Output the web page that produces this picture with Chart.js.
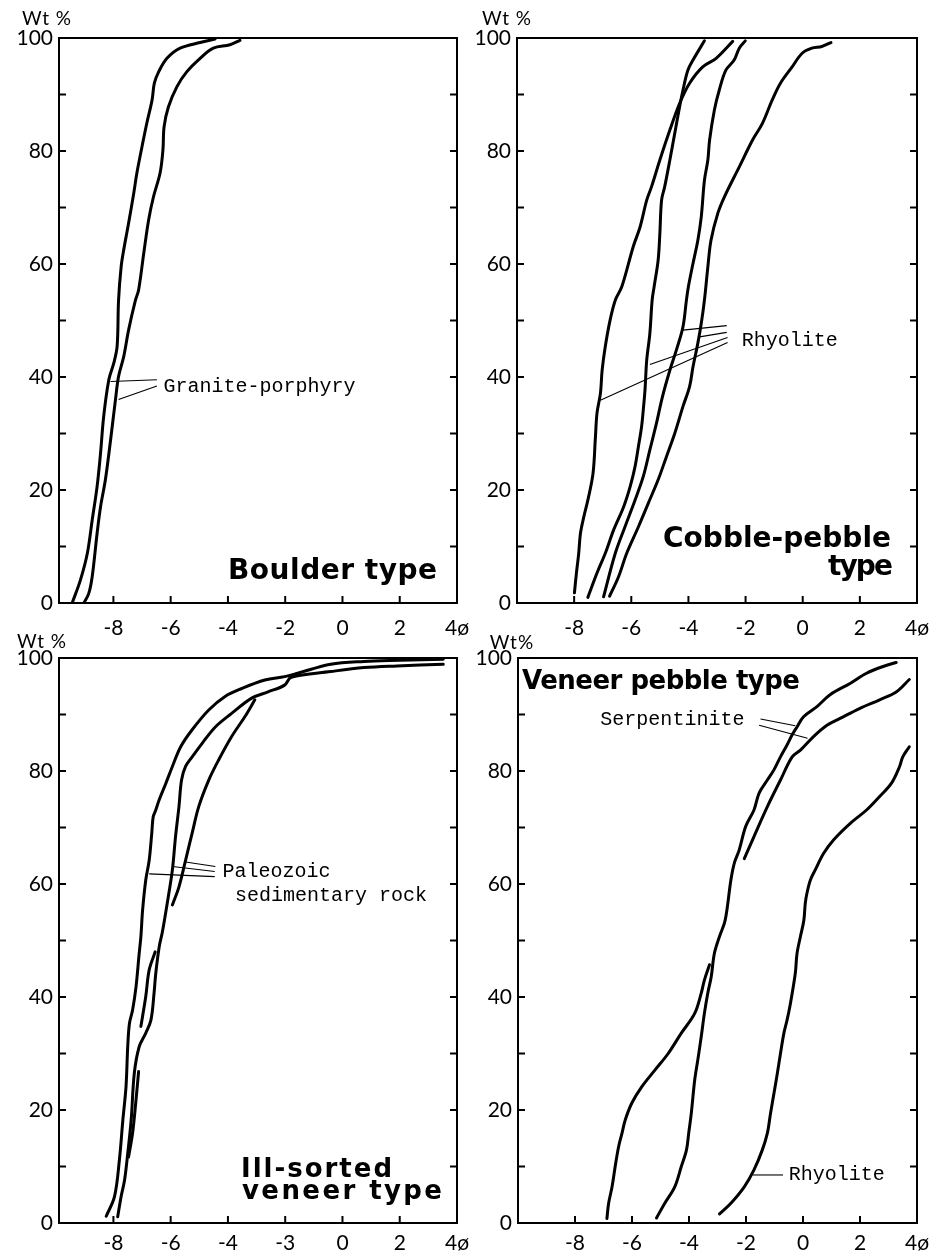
<!DOCTYPE html>
<html>
<head>
<meta charset="utf-8">
<script src="https://cdn.jsdelivr.net/npm/chart.js@4.4.1/dist/chart.umd.min.js"></script>
<style>
  body { margin: 0; background: #fff; }
  #page { position: relative; width: 950px; height: 1258px; overflow: hidden; }
  canvas { position: absolute; }
</style>
</head>
<body>
<div id="page">
  <canvas id="boulder" width="475" height="640" style="left:0;top:0"></canvas>
  <canvas id="cobble" width="480" height="640" style="left:470px;top:0"></canvas>
  <canvas id="illsorted" width="475" height="628" style="left:0;top:630px"></canvas>
  <canvas id="veneer" width="480" height="628" style="left:470px;top:630px"></canvas>
</div>
<script>
// axis ticks (phi scale and weight percent)
const xTickValues = [-8, -6, -4, -2, 0, 2, 4];
const xTickLabels = ['-8', '-6', '-4', '-2', '0', '2', '4ø'];
const xTickLabelsIll = ['-8', '-6', '-4', '-3', '0', '2', '4ø'];   // as printed in the original
const yTickValues = [0, 10, 20, 30, 40, 50, 60, 70, 80, 90, 100];
const yTickLabels = ['0', '', '20', '', '40', '', '60', '', '80', '', '100'];

// Boulder type -- [phi, cumulative wt %]
const boulderA = [[-9.44,0],[-9.15,4.1],[-8.91,8.8],[-8.74,14.7],[-8.57,20.6],[-8.45,26.5],[-8.34,33],[-8.16,39.5],[-7.99,42.4],[-7.87,45.4],[-7.82,53.6],[-7.73,59.5],[-7.64,62.5],[-7.47,67.2],[-7.29,72.5],[-7.18,76.1],[-7.0,80.8],[-6.83,85],[-6.65,89],[-6.57,92],[-6.42,94],[-6.13,96.4],[-5.67,98.2],[-4.97,99.2],[-4.45,99.8]];
const boulderB = [[-9.03,0],[-8.86,1.7],[-8.74,4.7],[-8.57,12.3],[-8.45,17],[-8.28,21.8],[-8.1,28.8],[-7.93,35.9],[-7.82,40.1],[-7.64,43.6],[-7.47,48.3],[-7.23,53.6],[-7.12,55.4],[-6.94,61.9],[-6.77,67.8],[-6.6,71.9],[-6.37,76.1],[-6.27,80.2],[-6.23,84.3],[-6.08,87.8],[-5.78,91.4],[-5.44,94],[-4.97,96.4],[-4.51,98.2],[-3.93,98.8],[-3.58,99.6]];

// Cobble-pebble type
const cobbleA = [[-7.99,1.8],[-7.92,5.3],[-7.84,8.8],[-7.78,12.3],[-7.66,15.3],[-7.52,18.2],[-7.34,22.9],[-7.26,28.9],[-7.2,33.6],[-7.08,37.1],[-7.02,41.2],[-6.91,45.4],[-6.74,50.1],[-6.56,53.6],[-6.33,56],[-5.93,63.1],[-5.69,66.6],[-5.46,71.3],[-5.29,73.7],[-5.0,78.4],[-4.65,83.7],[-4.31,88.4],[-3.96,92],[-3.5,94.9],[-3.03,96.4],[-2.45,99.4]];
const cobbleB = [[-7.52,1],[-7.2,5.3],[-6.91,8.8],[-6.62,12.9],[-6.27,17],[-6.04,20.6],[-5.87,24.1],[-5.75,27.7],[-5.64,31.2],[-5.58,34.2],[-5.52,37.7],[-5.46,43],[-5.35,47.7],[-5.27,53.6],[-5.2,56],[-5.06,60.7],[-5.0,65.4],[-4.94,71.3],[-4.83,73.7],[-4.65,78.4],[-4.48,83.1],[-4.31,87.8],[-4.19,90.8],[-4.02,94.3],[-3.84,96.1],[-3.44,99.5]];
const cobbleC = [[-6.97,1.1],[-6.56,8.8],[-6.22,13.5],[-5.87,18.2],[-5.58,22.4],[-5.35,27.1],[-5.12,31.8],[-4.91,36.5],[-4.65,41.2],[-4.42,44.8],[-4.19,48.9],[-4.07,53.6],[-4.0,56],[-3.84,60.1],[-3.67,64.2],[-3.55,68.4],[-3.44,74.8],[-3.32,78.4],[-3.26,81.9],[-3.09,87.3],[-2.92,90.8],[-2.69,94.3],[-2.4,96.1],[-2.22,98.2],[-2.01,99.5]];
const cobbleD = [[-6.76,1.2],[-6.45,4.6],[-6.16,8.8],[-5.75,13.5],[-5.41,17.6],[-5.06,21.8],[-4.77,25.9],[-4.48,30],[-4.19,34.8],[-3.96,38.3],[-3.84,41.8],[-3.67,46],[-3.55,49.5],[-3.44,53.6],[-3.32,59.5],[-3.21,64.2],[-2.97,69],[-2.74,71.9],[-2.22,77.2],[-1.76,81.9],[-1.41,84.9],[-1.07,89],[-0.78,92],[-0.37,94.9],[-0.02,97.3],[0.32,98.2],[0.67,98.5],[0.99,99.2]];

// Ill-sorted veneer type
const illA = [[-8.25,1.2],[-7.96,4.7],[-7.79,11.2],[-7.67,18.2],[-7.56,24.1],[-7.5,31.2],[-7.44,35.3],[-7.33,37.7],[-7.21,41.8],[-7.1,47.7],[-7.04,50.7],[-6.98,55.4],[-6.87,60.7],[-6.75,64.2],[-6.66,69],[-6.61,71.9],[-6.52,73.1],[-6.4,74.9],[-6.17,77.8],[-5.94,80.8],[-5.65,84.3],[-5.25,87.3],[-4.67,90.8],[-4.1,93.2],[-3.52,94.6],[-2.71,96.1],[-2.02,96.7],[-1.56,97.3],[-0.41,98.9],[0.75,99.4],[2.0,99.6],[3.52,99.8]];
const illB = [[-7.85,1.1],[-7.73,4.7],[-7.61,7.6],[-7.5,12.3],[-7.38,18.2],[-7.27,26.5],[-7.1,31.2],[-6.87,33.6],[-6.69,35.9],[-6.58,40.7],[-6.52,44.2],[-6.4,48.9],[-6.29,51.5],[-6.12,56.6],[-5.94,62.5],[-5.83,68.4],[-5.71,73.7],[-5.62,78.4],[-5.48,80.8],[-5.25,82.5],[-4.9,84.9],[-4.44,87.8],[-3.87,90.2],[-3.17,92.9],[-2.6,94],[-2.02,95.2],[-1.79,96.6],[-0.41,97.6],[0.75,98.3],[1.9,98.6],[3.52,98.9]];
const illC = [[-5.94,56.3],[-5.71,59.5],[-5.48,64.2],[-5.25,69],[-5.02,73.7],[-4.67,78.4],[-4.33,81.9],[-3.87,86.1],[-3.41,89.6],[-3.06,92.6]];
const illD = [[-7.04,34.8],[-6.87,40.1],[-6.75,44.8],[-6.54,48.0]];
const illE = [[-7.47,11.7],[-7.33,15.9],[-7.21,21.8],[-7.12,26.8]];

// Veneer pebble type
const venR1 = [[-6.88,0.8],[-6.82,3.5],[-6.7,6.4],[-6.59,10],[-6.47,13.5],[-6.35,15.9],[-6.24,18.2],[-6.01,21.2],[-5.66,24.1],[-5.19,27.1],[-4.73,30],[-4.27,33.6],[-3.8,37.1],[-3.57,40.7],[-3.46,43],[-3.28,45.7]];
const venR2 = [[-5.14,0.9],[-4.85,3.5],[-4.5,6.4],[-4.27,10],[-4.09,12.9],[-4.01,15.9],[-3.92,19.4],[-3.8,25.3],[-3.69,28.9],[-3.57,33],[-3.46,37.1],[-3.34,40.7],[-3.22,43.6],[-3.11,47.7],[-2.93,50.7],[-2.73,53.6],[-2.53,60.7],[-2.41,63.7],[-2.24,66],[-2.01,70.2],[-1.72,73.1],[-1.54,76.1],[-1.25,78.4],[-1.02,80.2],[-0.79,82.5],[-0.56,84.6],[-0.38,86.4],[-0.21,87.8],[0.02,89.6],[0.49,91.4],[0.95,93.5],[1.65,95.5],[2.23,97.3],[2.81,98.5],[3.27,99.2]];
const venS2 = [[-2.06,64.5],[-1.72,68.4],[-1.25,73.7],[-0.79,78.4],[-0.38,82.5],[-0.09,83.7],[0.37,86.1],[0.84,88.1],[1.3,89.3],[2.0,91.1],[2.69,92.6],[3.27,94],[3.73,96.2]];
const venRh = [[-2.93,1.6],[-2.53,3.5],[-2.06,6.4],[-1.72,9.4],[-1.43,12.9],[-1.25,15.9],[-1.14,19.4],[-1.02,22.9],[-0.9,26.5],[-0.79,30],[-0.67,33.6],[-0.56,35.9],[-0.44,38.9],[-0.27,44.2],[-0.21,47.7],[-0.09,50.7],[0.03,53.6],[0.08,56.6],[0.14,58.4],[0.26,60.7],[0.43,62.5],[0.72,65.4],[1.07,67.8],[1.65,70.7],[2.23,73.1],[2.69,75.5],[3.1,77.8],[3.39,80.8],[3.5,82.5],[3.73,84.3]];

// label leader lines and label anchors, in data units
const boulderLeaders = [[[-8.1,39.2],[-6.48,39.5]], [[-7.82,36.0],[-6.48,38.4]]];
const cobbleLeaders = [[[-4.19,48.3],[-2.66,49.1]], [[-3.61,47.1],[-2.66,47.9]], [[-5.35,42.2],[-2.63,47.0]], [[-7.08,35.9],[-2.63,46.1]]];
const illLeaders = [[[-5.48,63.9],[-4.44,63.1]], [[-5.94,63.1],[-4.46,62.2]], [[-6.75,61.8],[-4.46,61.3]]];
const venLeaders = [[[-1.49,89.2],[-0.27,88.0]], [[-1.54,88.1],[0.16,85.8]], [[-1.77,8.5],[-0.7,8.5]]];

const boulderNotes = [{ text: 'Granite-porphyry', x: -6.25, y: 38.3 }];
const cobbleNotes = [{ text: 'Rhyolite', x: -2.13, y: 46.5 }];
const illNotes = [{ text: 'Paleozoic', x: -4.19, y: 62.2 }, { text: 'sedimentary rock', x: -3.75, y: 57.9 }];
const venNotes = [{ text: 'Serpentinite', x: -7.11, y: 89.0 }, { text: 'Rhyolite', x: -0.5, y: 8.5 }];

const NUM_FONT = 'Lato, "DejaVu Sans", sans-serif';
const NOTE_FONT = '20px "Liberation Mono", "DejaVu Sans Mono", monospace';
const TITLE_FONT = '"DejaVu Sans", sans-serif';

const toPts = arr => arr.map(p => ({ x: p[0], y: p[1] }));

// frame, inward tick marks, notes and titles
const paperPlugin = {
  id: 'paper',
  afterDraw(chart, args, opts) {
    const { ctx, chartArea: a, scales: { x, y } } = chart;
    const line = (x1, y1, x2, y2) => { ctx.beginPath(); ctx.moveTo(x1, y1); ctx.lineTo(x2, y2); ctx.stroke(); };
    ctx.save();
    ctx.strokeStyle = '#000';
    ctx.lineWidth = 2;
    ctx.strokeRect(a.left, a.top, a.right - a.left, a.bottom - a.top);
    y.ticks.forEach(t => {
      const py = y.getPixelForValue(t.value);
      line(a.left, py, a.left + 7, py);
      line(a.right - 7, py, a.right, py);
    });
    x.ticks.forEach(t => {
      if (t.value >= x.max) return;
      const px = x.getPixelForValue(t.value);
      line(px, a.bottom, px, a.bottom - 7);
    });

    ctx.fillStyle = '#000';
    ctx.textBaseline = 'middle';
    ctx.textAlign = 'left';
    ctx.font = NOTE_FONT;
    (opts.notes || []).forEach(n => ctx.fillText(n.text, x.getPixelForValue(n.x), y.getPixelForValue(n.y)));

    (opts.titles || []).forEach(t => {
      ctx.font = t.font;
      ctx.letterSpacing = '0px';
      const w = ctx.measureText(t.text).width;
      const sp = t.width ? (t.width - w) / Math.max(1, t.text.length - 1) : 0;
      ctx.letterSpacing = sp + 'px';
      const tw = w + sp * (t.text.length - 1);
      const px = t.align === 'right' ? a.right + t.dx - tw : a.left + t.dx;
      ctx.textAlign = 'left';
      ctx.fillText(t.text, px, (t.from === 'top' ? a.top : a.bottom) + t.dy);
    });

    if (opts.yTitle) {
      ctx.font = '19px ' + NUM_FONT;
      ctx.letterSpacing = '1px';
      ctx.textAlign = 'center';
      ctx.fillText(opts.yTitle.text, a.left + opts.yTitle.dx, a.top + opts.yTitle.dy);
    }
    ctx.letterSpacing = '0px';
    ctx.restore();
  }
};

function makePanel(id, p) {
  const datasets = p.curves.map(c => ({
    data: toPts(c), borderColor: '#000', borderWidth: 3, pointRadius: 0,
    showLine: true, fill: false, tension: 0.35, borderCapStyle: 'round'
  }));
  p.leaders.forEach(l => datasets.push({
    data: toPts(l), borderColor: '#000', borderWidth: 1.1, pointRadius: 0,
    showLine: true, fill: false, tension: 0
  }));
  return new Chart(document.getElementById(id), {
    type: 'scatter',
    data: { datasets },
    options: {
      responsive: false,
      animation: false,
      devicePixelRatio: 1,
      layout: { padding: { top: p.padTop, right: p.padRight, left: 0, bottom: 0 } },
      plugins: {
        legend: { display: false },
        tooltip: { enabled: false },
        paper: { notes: p.notes, titles: p.titles, yTitle: p.yTitle }
      },
      scales: {
        x: {
          type: 'linear', min: p.xMin, max: 4,
          afterBuildTicks: s => { s.ticks = xTickValues.map(v => ({ value: v })); },
          afterFit: s => { s.height = p.xHeight; s.paddingLeft = 0; s.paddingRight = 0; },
          grid: { display: false, drawTicks: false },
          border: { display: false },
          ticks: {
            padding: p.xPad, color: '#000', maxRotation: 0, autoSkip: false,
            font: { family: NUM_FONT, size: 21 },
            callback: (v, i) => p.xLabels[i]
          }
        },
        y: {
          type: 'linear', min: 0, max: 100,
          afterBuildTicks: s => { s.ticks = yTickValues.map(v => ({ value: v })); },
          afterFit: s => { s.width = p.yWidth; s.paddingTop = 0; s.paddingBottom = 0; },
          grid: { display: false, drawTicks: false },
          border: { display: false },
          ticks: {
            padding: 6, color: '#000', autoSkip: false,
            font: { family: NUM_FONT, size: 21 },
            callback: (v, i) => yTickLabels[i]
          }
        }
      }
    },
    plugins: [paperPlugin]
  });
}

makePanel('boulder', {
  curves: [boulderA, boulderB], leaders: boulderLeaders, notes: boulderNotes,
  xMin: -9.9, xLabels: xTickLabels, padTop: 38, padRight: 18, yWidth: 59, xHeight: 37, xPad: 13,
  yTitle: { text: 'Wt %', dx: -12, dy: -19 },
  titles: [{ text: 'Boulder type', font: 'bold 28px ' + TITLE_FONT, align: 'right', dx: -20, from: 'bottom', dy: -31, width: 209 }]
});
makePanel('cobble', {
  curves: [cobbleA, cobbleB, cobbleC, cobbleD], leaders: cobbleLeaders, notes: cobbleNotes,
  xMin: -10, xLabels: xTickLabels, padTop: 38, padRight: 33, yWidth: 47, xHeight: 37, xPad: 13,
  yTitle: { text: 'Wt %', dx: -10, dy: -19 },
  titles: [
    { text: 'Cobble-pebble', font: 'bold 28px ' + TITLE_FONT, align: 'right', dx: -26, from: 'bottom', dy: -63, width: 228 },
    { text: 'type', font: 'bold 28px ' + TITLE_FONT, align: 'right', dx: -24, from: 'bottom', dy: -35, width: 65 }
  ]
});
makePanel('illsorted', {
  curves: [illA, illB, illC, illD, illE], leaders: illLeaders, notes: illNotes,
  xMin: -9.9, xLabels: xTickLabelsIll, padTop: 28, padRight: 18, yWidth: 59, xHeight: 35, xPad: 8,
  yTitle: { text: 'Wt %', dx: -17, dy: -16 },
  titles: [
    { text: 'Ill-sorted', font: 'bold 26px ' + TITLE_FONT, align: 'left', dx: 182, from: 'bottom', dy: -53, width: 151 },
    { text: 'veneer type', font: 'bold 26px ' + TITLE_FONT, align: 'left', dx: 183, from: 'bottom', dy: -31, width: 200 }
  ]
});
makePanel('veneer', {
  curves: [venR1, venR2, venS2, venRh], leaders: venLeaders, notes: venNotes,
  xMin: -10, xLabels: xTickLabels, padTop: 28, padRight: 33, yWidth: 48, xHeight: 35, xPad: 8,
  yTitle: { text: 'Wt%', dx: -6, dy: -15 },
  titles: [{ text: 'Veneer pebble type', font: 'bold 26px ' + TITLE_FONT, align: 'left', dx: 4, from: 'top', dy: 24, width: 278 }]
});
</script>
</body>
</html>
